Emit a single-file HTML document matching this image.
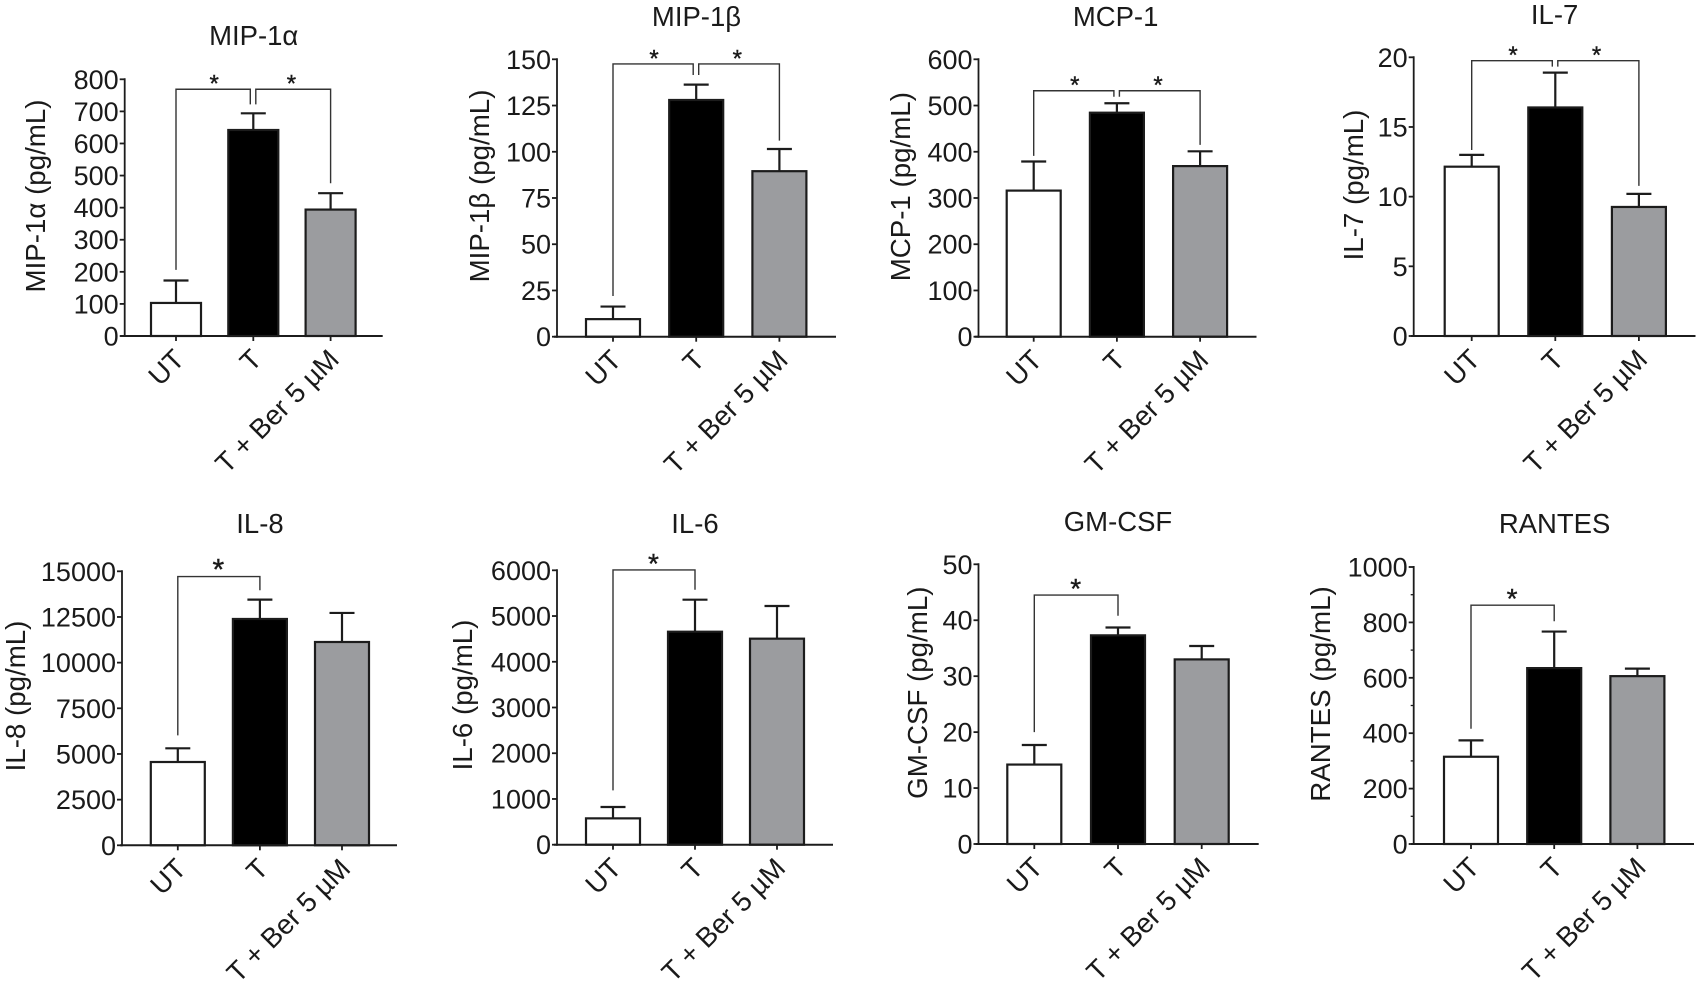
<!DOCTYPE html>
<html lang="en">
<head>
<meta charset="utf-8">
<title>Cytokine bar charts</title>
<style>
html,body{margin:0;padding:0;background:#fff;}
svg{display:block;}
text{font-family:"Liberation Sans",sans-serif;fill:#1a1a1a;}
</style>
</head>
<body>
<svg id="figure" xmlns="http://www.w3.org/2000/svg" width="1699" height="984" viewBox="0 0 1699 984"></svg>
<script>
const categories = ['UT', 'T', 'T + Ber 5 µM'];

const mip1aMeans = [103, 642, 394];
const mip1aErrors = [70, 52, 51];
const mip1aTicks = [0, 100, 200, 300, 400, 500, 600, 700, 800];
const mip1aBracket = [769, 206, 722, 476];

const mip1bMeans = [9.5, 128, 89.5];
const mip1bErrors = [6.8, 8.3, 12];
const mip1bTicks = [0, 25, 50, 75, 100, 125, 150];
const mip1bBracket = [147.5, 22, 141.5, 106];

const mcp1Means = [316, 484.5, 369];
const mcp1Errors = [63, 20.5, 32];
const mcp1Ticks = [0, 100, 200, 300, 400, 500, 600];
const mcp1Bracket = [532, 391, 519, 415];

const il7Means = [12.15, 16.4, 9.26];
const il7Errors = [0.85, 2.5, 0.94];
const il7Ticks = [0, 5, 10, 15, 20];
const il7Bracket = [19.76, 13.35, 19.33, 10.77];

const il8Means = [4560, 12390, 11130];
const il8Errors = [750, 1060, 1590];
const il8Ticks = [0, 2500, 5000, 7500, 10000, 12500, 15000];
const il8Bracket = [14710, 6020, 13960];

const il6Means = [576, 4657, 4505];
const il6Errors = [248, 700, 715];
const il6Ticks = [0, 1000, 2000, 3000, 4000, 5000, 6000];
const il6Bracket = [6007, 1188, 5576];

const gmcsfMeans = [14.2, 37.3, 33];
const gmcsfErrors = [3.5, 1.4, 2.4];
const gmcsfTicks = [0, 10, 20, 30, 40, 50];
const gmcsfBracket = [44.5, 20, 40.8];

const rantesMeans = [315, 635, 606];
const rantesErrors = [59, 132, 27];
const rantesTicks = [0, 200, 400, 600, 800, 1000];
const rantesMinorTicks = [100, 300, 500, 700, 900];
const rantesBracket = [862, 416, 804];

const svg = document.getElementById('figure');
const NS = 'http://www.w3.org/2000/svg';
const INK = '#1c1c1c';
const GREY = '#9b9c9f';
const FILLS = ['#ffffff', '#000000', GREY];

function make(parent, tag, attrs, content) {
  const el = document.createElementNS(NS, tag);
  for (const k in attrs) el.setAttribute(k, attrs[k]);
  if (content !== undefined) el.textContent = content;
  parent.appendChild(el);
  return el;
}

function slug(s) {
  return s.toLowerCase().replace(/[^a-z0-9]+/g, '-').replace(/^-|-$/g, '');
}

function drawPanel(cfg) {
  const g = make(svg, 'g', {});
  const id = slug(cfg.title);
  
  

  const yMax = cfg.ticks[cfg.ticks.length - 1];
  const y = v => cfg.y0 - (v / yMax) * (cfg.y0 - cfg.yTop);
  const x = i => cfg.cat0 + i * cfg.catStep;

  const title = make(g, 'text', {x: cfg.titleX, y: cfg.titleY, 'font-size': 27.5, 'text-anchor': 'middle'}, cfg.title);
  
  

  const yTitle = make(g, 'text', {
    x: 0, y: 0, 'font-size': 27.7, 'text-anchor': 'middle',
    transform: 'translate(' + cfg.yTitleX + ',' + cfg.yTitleY + ') rotate(-90)',
    'xml:space': 'preserve'
  }, cfg.yLabel);
  
  

  // bars
  cfg.means.forEach((m, i) => {
    const err = make(g, 'path', {
      d: 'M' + x(i) + ' ' + y(m) + 'V' + y(m + cfg.errors[i]) + 'M' + (x(i) - 12.5) + ' ' + y(m + cfg.errors[i]) + 'H' + (x(i) + 12.5),
      fill: 'none', stroke: INK, 'stroke-width': 2.2
    });
    
    

    const bar = make(g, 'rect', {
      x: x(i) - cfg.barW / 2, y: y(m), width: cfg.barW, height: cfg.y0 - y(m),
      fill: FILLS[i], stroke: INK, 'stroke-width': 2.2
    });
    
    
  });

  // y axis
  const yAxis = make(g, 'line', {x1: cfg.axisX, x2: cfg.axisX, y1: cfg.yTop - 1, y2: cfg.y0 + 1, stroke: INK, 'stroke-width': 1.8});
  
  

  cfg.ticks.forEach(t => {
    const tick = make(g, 'line', {x1: cfg.axisX - 5, x2: cfg.axisX, y1: y(t), y2: y(t), stroke: INK, 'stroke-width': 1.8});
    
    
    const label = make(g, 'text', {x: cfg.axisX - 6, y: y(t) + 9.5, 'font-size': 27, 'text-anchor': 'end'}, String(t));
    
    
  });

  (cfg.minorTicks || []).forEach(t => {
    const tick = make(g, 'line', {x1: cfg.axisX - 3, x2: cfg.axisX, y1: y(t), y2: y(t), stroke: INK, 'stroke-width': 1.3});
    
    
  });

  // x axis
  const xAxis = make(g, 'line', {x1: cfg.axisStart, x2: cfg.axisEnd, y1: cfg.y0, y2: cfg.y0, stroke: INK, 'stroke-width': 2});
  
  

  categories.forEach((c, i) => {
    const tick = make(g, 'line', {x1: x(i), x2: x(i), y1: cfg.y0, y2: cfg.y0 + 5, stroke: INK, 'stroke-width': 1.8});
    
    
    const label = make(g, 'text', {
      x: 0, y: 0, 'font-size': 27.7, 'text-anchor': 'end',
      transform: 'translate(' + (x(i) + 10) + ',' + (cfg.y0 + 25) + ') rotate(-45)'
    }, c);
    
    
  });

  // significance brackets
  const b = cfg.bracket;
  const top = y(b[0]);
  let paths = [];
  if (b.length === 4) {
    paths.push('M' + x(0) + ' ' + y(b[1]) + 'V' + top + 'H' + (x(1) - 3) + 'V' + y(b[2]));
    paths.push('M' + (x(1) + 2.5) + ' ' + y(b[2]) + 'V' + top + 'H' + x(2) + 'V' + y(b[3]));
  } else {
    paths.push('M' + x(0) + ' ' + y(b[1]) + 'V' + top + 'H' + x(1) + 'V' + y(b[2]));
  }
  paths.forEach((d, i) => {
    const br = make(g, 'path', {d: d, fill: 'none', stroke: '#333', 'stroke-width': 1.4});
    
    
    const star = make(g, 'text', {
      x: x(i) + cfg.catStep / 2 - 0.5, y: top + cfg.starSize * 0.1,
      'font-size': cfg.starSize, 'text-anchor': 'middle', stroke: '#1a1a1a', 'stroke-width': 0.4
    }, '*');
    
    
  });
}

drawPanel({title: 'MIP-1α', yLabel: 'MIP-1α (pg/mL)', means: mip1aMeans, errors: mip1aErrors, ticks: mip1aTicks, bracket: mip1aBracket,
  axisX: 124.7, axisStart: 120.3, axisEnd: 382.7, y0: 336, yTop: 79.3, cat0: 176, catStep: 77.3, barW: 50,
  titleX: 253.7, titleY: 45, yTitleX: 45, yTitleY: 196, starSize: 24});
drawPanel({title: 'MIP-1β', yLabel: 'MIP-1β (pg/mL)', means: mip1bMeans, errors: mip1bErrors, ticks: mip1bTicks, bracket: mip1bBracket,
  axisX: 557, axisStart: 554, axisEnd: 836, y0: 336.7, yTop: 59.3, cat0: 613, catStep: 83.2, barW: 54,
  titleX: 696.5, titleY: 26, yTitleX: 489, yTitleY: 186, starSize: 24});
drawPanel({title: 'MCP-1', yLabel: 'MCP-1 (pg/mL)', means: mcp1Means, errors: mcp1Errors, ticks: mcp1Ticks, bracket: mcp1Bracket,
  axisX: 978.5, axisStart: 974.7, axisEnd: 1256.5, y0: 336.7, yTop: 59.3, cat0: 1033.7, catStep: 83.2, barW: 54,
  titleX: 1115.6, titleY: 26, yTitleX: 910, yTitleY: 186.7, starSize: 24});
drawPanel({title: 'IL-7', yLabel: 'IL-7 (pg/mL)', means: il7Means, errors: il7Errors, ticks: il7Ticks, bracket: il7Bracket,
  axisX: 1413.7, axisStart: 1411, axisEnd: 1695.5, y0: 336, yTop: 57.3, cat0: 1471.7, catStep: 83.6, barW: 54,
  titleX: 1554.6, titleY: 24, yTitleX: 1363, yTitleY: 185, starSize: 24});
drawPanel({title: 'IL-8', yLabel: 'IL-8 (pg/mL)', means: il8Means, errors: il8Errors, ticks: il8Ticks, bracket: il8Bracket,
  axisX: 122, axisStart: 120, axisEnd: 397, y0: 845.3, yTop: 571.3, cat0: 177.8, catStep: 82.1, barW: 54,
  titleX: 260, titleY: 533, yTitleX: 25, yTitleY: 696, starSize: 30});
drawPanel({title: 'IL-6', yLabel: 'IL-6 (pg/mL)', means: il6Means, errors: il6Errors, ticks: il6Ticks, bracket: il6Bracket,
  axisX: 557, axisStart: 554, axisEnd: 833, y0: 844.7, yTop: 570.3, cat0: 613, catStep: 82, barW: 54,
  titleX: 695, titleY: 533, yTitleX: 472, yTitleY: 695, starSize: 28});
drawPanel({title: 'GM-CSF', yLabel: 'GM-CSF (pg/mL)', means: gmcsfMeans, errors: gmcsfErrors, ticks: gmcsfTicks, bracket: gmcsfBracket,
  axisX: 978.5, axisStart: 975.7, axisEnd: 1258.7, y0: 844, yTop: 564.3, cat0: 1034.3, catStep: 83.7, barW: 54,
  titleX: 1118, titleY: 531, yTitleX: 927, yTitleY: 692.7, starSize: 28});
drawPanel({title: 'RANTES', yLabel: 'RANTES (pg/mL)', means: rantesMeans, errors: rantesErrors, ticks: rantesTicks, minorTicks: rantesMinorTicks, bracket: rantesBracket,
  axisX: 1413.7, axisStart: 1411, axisEnd: 1694, y0: 844, yTop: 567, cat0: 1471, catStep: 83.2, barW: 54,
  titleX: 1554.6, titleY: 533, yTitleX: 1330, yTitleY: 694, starSize: 28});
</script>
</body>
</html>
